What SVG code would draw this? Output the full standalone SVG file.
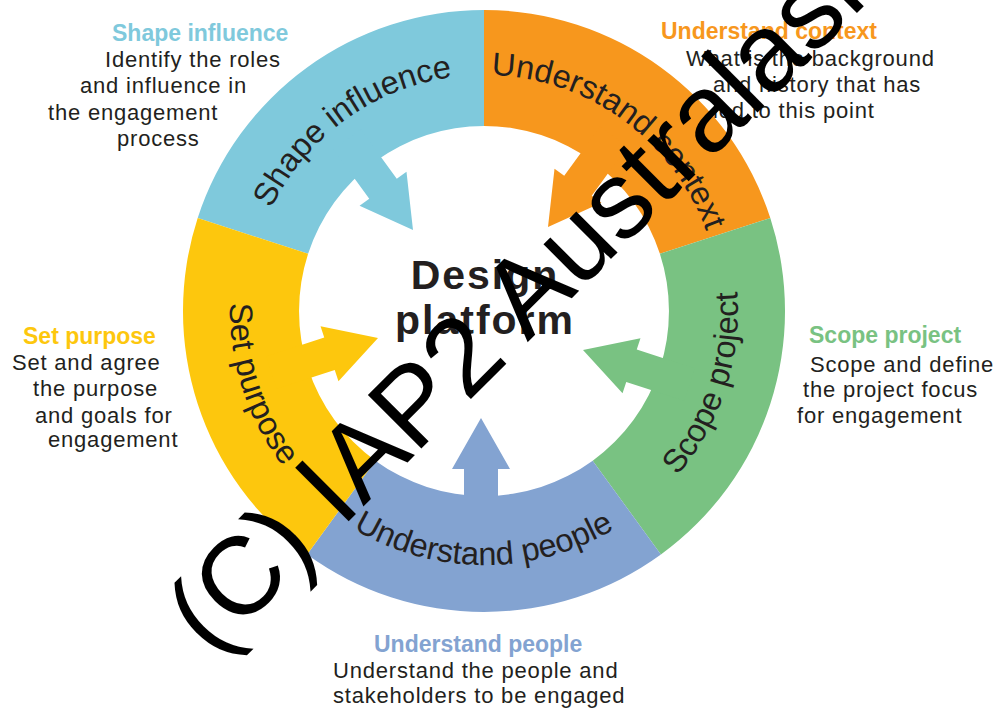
<svg xmlns="http://www.w3.org/2000/svg" width="997" height="708" viewBox="0 0 997 708">
  <style>
    .ring-label { font-family: "Liberation Sans", Arial, Helvetica, sans-serif; font-size: 32.5px; fill: #231f20; }
    .centre { font-family: "Liberation Sans", Arial, Helvetica, sans-serif; font-size: 41px; font-weight: bold; fill: #231f20; letter-spacing: 2px; }
    .title { font-family: "Liberation Sans", Arial, Helvetica, sans-serif; font-size: 23px; font-weight: bold; }
    .body { font-family: "Liberation Sans", Arial, Helvetica, sans-serif; font-size: 22px; fill: #231f20; letter-spacing: 0.8px; }
    .mark { font-family: "Liberation Sans", Arial, Helvetica, sans-serif; font-size: 110px; fill: #000; }
    .c-influence { fill: #7fc9dc; }
    .c-context { fill: #f7971d; }
    .c-scope { fill: #79c282; }
    .c-people { fill: #83a3d1; }
    .c-purpose { fill: #fdc70d; }
  </style>
  <defs>
    <!-- inward arrow, tip at origin, pointing along +x -->
    <polygon id="arrow" points="0,0 -51,-29 -51,-17 -112,-17 -112,17 -51,17 -51,29"/>
    <!-- baselines for the ring labels (centre 484,311) -->
    <path id="arc-influence" d="M249.3,335.7 A236,236 0 0 1 580.0,95.4"/>
    <path id="arc-context" d="M388.0,95.4 A236,236 0 0 1 718.7,335.7"/>
    <path id="arc-scope" d="M536.8,559.4 A254,254 0 0 0 672.8,141.0"/>
    <path id="arc-people" d="M264,438 A254,254 0 0 0 704,438"/>
    <path id="arc-purpose" d="M295.2,141.0 A254,254 0 0 0 431.2,559.4"/>
  </defs>

  <rect width="997" height="708" fill="#ffffff"/>

  <g id="shape-influence">
    <path class="c-influence" d="M197.7,218.0 A301,301 0 0 1 484,10 L484,126 A185,185 0 0 0 308.1,253.8 Z"/>
    <use href="#arrow" class="c-influence" transform="translate(413,230) rotate(54)"/>
    <text class="ring-label"><textPath href="#arc-influence" startOffset="50%" text-anchor="middle">Shape influence</textPath></text>
  </g>

  <g id="understand-context">
    <path class="c-context" d="M484,10 A301,301 0 0 1 770.3,218.0 L659.9,253.8 A185,185 0 0 0 484,126 Z"/>
    <use href="#arrow" class="c-context" transform="translate(548,227) rotate(126)"/>
    <text class="ring-label"><textPath href="#arc-context" startOffset="50%" text-anchor="middle">Understand context</textPath></text>
  </g>

  <g id="scope-project">
    <path class="c-scope" d="M770.3,218.0 A301,301 0 0 1 660.9,554.5 L592.7,460.7 A185,185 0 0 0 659.9,253.8 Z"/>
    <use href="#arrow" class="c-scope" transform="translate(583,350) rotate(198)"/>
    <text class="ring-label"><textPath href="#arc-scope" startOffset="50%" text-anchor="middle">Scope project</textPath></text>
  </g>

  <g id="understand-people">
    <path class="c-people" d="M660.9,554.5 A301,301 0 0 1 307.1,554.5 L375.3,460.7 A185,185 0 0 0 592.7,460.7 Z"/>
    <use href="#arrow" class="c-people" transform="translate(481,418) rotate(-90)"/>
    <text class="ring-label"><textPath href="#arc-people" startOffset="50%" text-anchor="middle">Understand people</textPath></text>
  </g>

  <g id="set-purpose">
    <path class="c-purpose" d="M307.1,554.5 A301,301 0 0 1 197.7,218.0 L308.1,253.8 A185,185 0 0 0 375.3,460.7 Z"/>
    <use href="#arrow" class="c-purpose" transform="translate(378,338) rotate(-18)"/>
    <text class="ring-label"><textPath href="#arc-purpose" startOffset="50%" text-anchor="middle">Set purpose</textPath></text>
  </g>

  <g id="design-platform">
    <text class="centre" x="485" y="289" text-anchor="middle">Design</text>
    <text class="centre" x="485" y="334" text-anchor="middle">platform</text>
  </g>

  <!-- descriptions around the ring -->
  <g id="desc-influence">
    <text class="title c-influence" x="112" y="41">Shape influence</text>
    <text class="body" x="105" y="67">Identify the roles</text>
    <text class="body" x="80" y="93">and influence in</text>
    <text class="body" x="48" y="120">the engagement</text>
    <text class="body" x="117" y="146">process</text>
  </g>

  <g id="desc-context">
    <text class="title c-context" x="661" y="39">Understand context</text>
    <text class="body" x="686" y="66">What is the background</text>
    <text class="body" x="713" y="92">and history that has</text>
    <text class="body" x="713" y="118">led to this point</text>
  </g>

  <g id="desc-scope">
    <text class="title c-scope" x="809" y="343">Scope project</text>
    <text class="body" x="810" y="372">Scope and define</text>
    <text class="body" x="803" y="397">the project focus</text>
    <text class="body" x="797" y="423">for engagement</text>
  </g>

  <g id="desc-people">
    <text class="title c-people" x="374" y="652">Understand people</text>
    <text class="body" x="333" y="678">Understand the people and</text>
    <text class="body" x="333" y="703">stakeholders to be engaged</text>
  </g>

  <g id="desc-purpose">
    <text class="title c-purpose" x="23" y="344">Set purpose</text>
    <text class="body" x="12" y="370">Set and agree</text>
    <text class="body" x="33" y="396">the purpose</text>
    <text class="body" x="35" y="423">and goals for</text>
    <text class="body" x="48" y="447">engagement</text>
  </g>

  <!-- copyright mark across the figure -->
  <text class="mark" transform="translate(212,658) rotate(-45)">(C) IAP2 Australasia</text>
</svg>
